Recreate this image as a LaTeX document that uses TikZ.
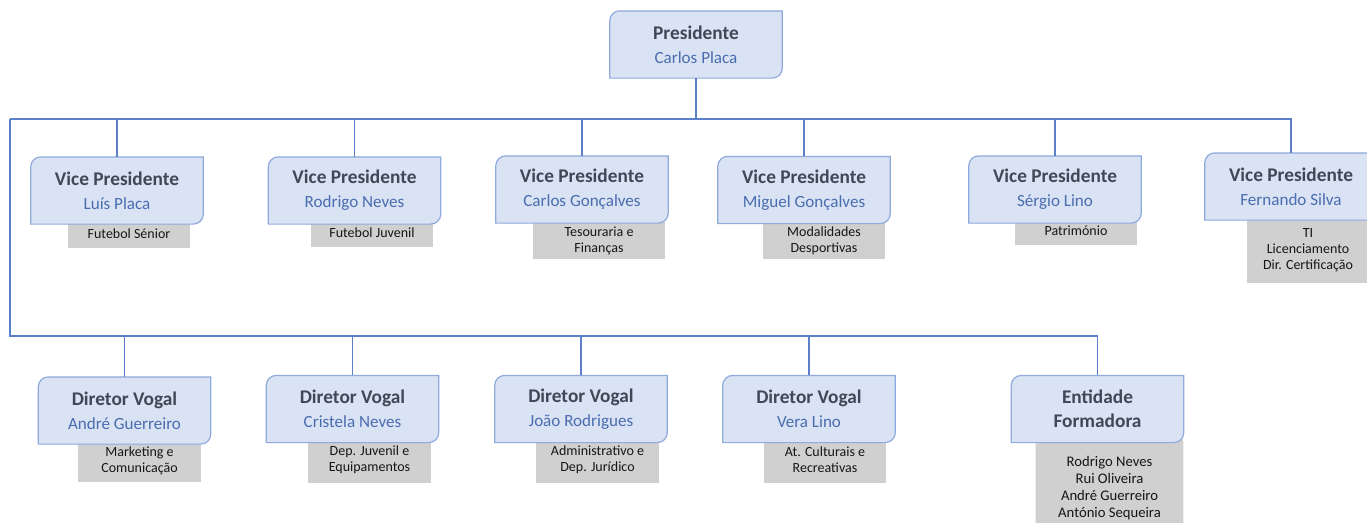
\documentclass[tikz,border=0pt]{standalone}
\usepackage{fontspec}
\setmainfont{Carlito}
\usepackage{xcolor}
\usepackage{tikz}

\definecolor{boxfill}{HTML}{DAE3F3}
\definecolor{boxedge}{HTML}{8FAADC}
\definecolor{linkblue}{HTML}{5B7FC8}
\definecolor{titlegrey}{HTML}{3E4857}
\definecolor{nameblue}{HTML}{4A6CB0}
\definecolor{tagfill}{HTML}{D0D0D0}
\definecolor{tagtext}{HTML}{161616}

\pgfdeclarelayer{back}
\pgfdeclarelayer{mid}
\pgfsetlayers{back,mid,main}

% title line + name line of a box
\newcommand{\rolename}[2]{{\fontsize{14.5}{18}\selectfont\bfseries\color{titlegrey}#1}\\{\color{nameblue}#2}}

\begin{document}
\begin{tikzpicture}[
    x=0.75pt, y=-0.75pt,
    role/.style={minimum width=129pt, minimum height=50pt, inner sep=0pt, align=center, font=\fontsize{12.8}{18}\selectfont},
    tag/.style={inner sep=0pt, align=center, text=tagtext, font=\fontsize{10.5}{12}\selectfont},
    boxline/.style={draw=boxedge, fill=boxfill, line width=0.9pt},
    link/.style={draw=linkblue, line width=1.1pt}
]
\useasboundingbox (0,0) rectangle (1367,522);

% board
\node[role] (pres) at (696,44.5) {\rolename{Presidente}{Carlos Placa}};

\node[role] (vp1) at (117,190.5) {\rolename{Vice Presidente}{Luís Placa}};
\node[role] (vp2) at (354.5,190.5) {\rolename{Vice Presidente}{Rodrigo Neves}};
\node[role] (vp3) at (582,189.5) {\rolename{Vice Presidente}{Carlos Gonçalves}};
\node[role] (vp4) at (804,190) {\rolename{Vice Presidente}{Miguel Gonçalves}};
\node[role] (vp5) at (1055,189.5) {\rolename{Vice Presidente}{Sérgio Lino}};
\node[role] (vp6) at (1291,186.5) {\rolename{Vice Presidente}{Fernando Silva}};

\node[role] (dv1) at (124.5,410.5) {\rolename{Diretor Vogal}{André Guerreiro}};
\node[role] (dv2) at (352.5,409) {\rolename{Diretor Vogal}{Cristela Neves}};
\node[role] (dv3) at (581,409) {\rolename{Diretor Vogal}{João Rodrigues}};
\node[role] (dv4) at (809,409) {\rolename{Diretor Vogal}{Vera Lino}};
\node[role, font=\fontsize{14.5}{18}\selectfont\bfseries, text=titlegrey] (ef) at (1097.5,409) {Entidade\\Formadora};

% areas
\node[tag, minimum width=91.5pt, minimum height=21.75pt] (t1) at (129,233.5) {Futebol Sénior};
\node[tag, minimum width=91.5pt, minimum height=21.75pt] (t2) at (372,232.5) {Futebol Juvenil};
\node[tag, minimum width=99pt, minimum height=27.75pt] (t3) at (599,240.5) {Tesouraria e\\Finanças};
\node[tag, minimum width=91.5pt, minimum height=27.75pt] (t4) at (824,240.5) {Modalidades\\Desportivas};
\node[tag, minimum width=91.5pt, minimum height=21pt] (t5) at (1076,231) {Património};
\node[tag, minimum width=91.5pt, minimum height=49.5pt] (t6) at (1308,250) {TI\\Licenciamento\\Dir. Certificação};

\node[tag, minimum width=92.25pt, minimum height=31.5pt] (u1) at (139.5,461) {Marketing e\\Comunicação};
\node[tag, minimum width=92.25pt, minimum height=34.5pt] (u2) at (369.5,460) {Dep. Juvenil e\\Equipamentos};
\node[tag, minimum width=92.25pt, minimum height=34.5pt] (u3) at (597.5,460) {Administrativo e\\Dep. Jurídico};
\node[tag, minimum width=91.5pt, minimum height=34.5pt] (u4) at (825,460) {At. Culturais e\\Recreativas};
\node[tag, minimum width=110.25pt, minimum height=82.5pt, font=\fontsize{11}{12.6}\selectfont] (efl) at (1109.5,488) {Rodrigo Neves\\Rui Oliveira\\André Guerreiro\\António Sequeira};

% box shapes
\begin{pgfonlayer}{mid}
\foreach \b in {pres,vp1,vp2,vp3,vp4,vp5,vp6,dv1,dv2,dv3,dv4,ef}
  \draw[boxline] ([yshift=-7.5pt]\b.north west) arc[start angle=180, end angle=90, radius=7.5pt]
    -- (\b.north east) -- ([yshift=7.5pt]\b.south east) arc[start angle=0, end angle=-90, radius=7.5pt]
    -- (\b.south west) -- cycle;
\end{pgfonlayer}
\begin{pgfonlayer}{back}
\foreach \t in {t1,t2,t3,t4,t5,t6,u1,u2,u3,u4}
  \fill[tagfill] (\t.south west) rectangle (\t.north east);
\fill[tagfill] (efl.south west) -- (efl.north west) -- ([xshift=-7.5pt]efl.north east)
  arc[start angle=90, end angle=0, radius=7.5pt] -- (efl.south east) -- cycle;
\end{pgfonlayer}

% connectors
\coordinate (top) at (10,119);
\coordinate (bot) at (10,336);
\draw[link] (pres.south) -- (pres.south |- top);
\draw[link] (top) -- (top -| vp6.north) -- (vp6.north);
\foreach \n in {vp1,vp2,vp3,vp4,vp5}
  \draw[link] (\n.north) -- (\n.north |- top);
\draw[link] (top) -- (bot) -| (ef.north);
\foreach \n in {dv1,dv2,dv3,dv4}
  \draw[link] (\n.north) -- (\n.north |- bot);
\end{tikzpicture}
\end{document}
